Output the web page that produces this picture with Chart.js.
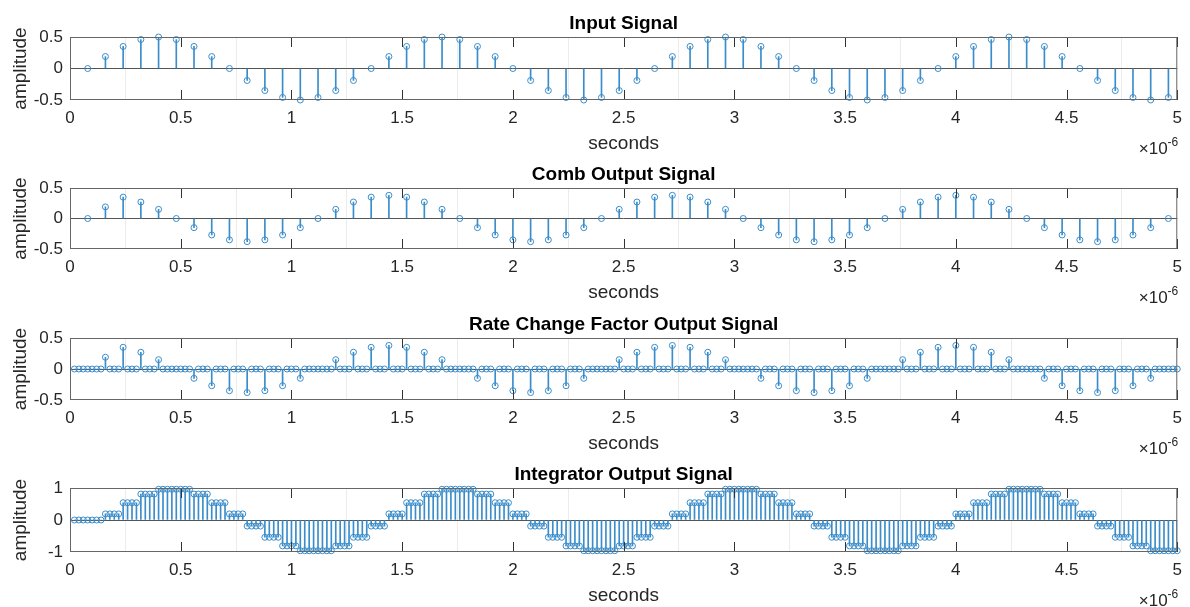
<!DOCTYPE html>
<html>
<head>
<meta charset="utf-8">
<title>CIC interpolator stages</title>
<script src="https://cdn.jsdelivr.net/npm/chart.js@4.4.1/dist/chart.umd.min.js"></script>
<style>
  html, body { margin: 0; padding: 0; background: #fff; }
  .panel { position: absolute; left: 0; width: 1190px; }
  canvas { display: block; }
</style>
</head>
<body>
<div class="panel" style="top:0px"><canvas id="c1" width="1190" height="155"></canvas></div>
<div class="panel" style="top:151px"><canvas id="c2" width="1190" height="153"></canvas></div>
<div class="panel" style="top:301px"><canvas id="c3" width="1190" height="154"></canvas></div>
<div class="panel" style="top:451px"><canvas id="c4" width="1190" height="156"></canvas></div>
<script>
// sample instants, in units of 1e-6 s
const sampleTime = [
  0.08, 0.16, 0.24, 0.32, 0.4, 0.48, 0.56, 0.64, 0.72, 0.8, 0.88, 0.96, 1.04, 1.12, 1.2, 1.28,
  1.36, 1.44, 1.52, 1.6, 1.68, 1.76, 1.84, 1.92, 2, 2.08, 2.16, 2.24, 2.32, 2.4, 2.48, 2.56,
  2.64, 2.72, 2.8, 2.88, 2.96, 3.04, 3.12, 3.2, 3.28, 3.36, 3.44, 3.52, 3.6, 3.68, 3.76, 3.84,
  3.92, 4, 4.08, 4.16, 4.24, 4.32, 4.4, 4.48, 4.56, 4.64, 4.72, 4.8, 4.88, 4.96
];

// instants after the rate change (4x faster)
const fastTime = [
  0.02, 0.04, 0.06, 0.08, 0.1, 0.12, 0.14, 0.16, 0.18, 0.2, 0.22, 0.24, 0.26, 0.28, 0.3, 0.32, 0.34, 0.36, 0.38, 0.4, 0.42, 0.44, 0.46, 0.48, 0.5,
  0.52, 0.54, 0.56, 0.58, 0.6, 0.62, 0.64, 0.66, 0.68, 0.7, 0.72, 0.74, 0.76, 0.78, 0.8, 0.82, 0.84, 0.86, 0.88, 0.9, 0.92, 0.94, 0.96, 0.98, 1,
  1.02, 1.04, 1.06, 1.08, 1.1, 1.12, 1.14, 1.16, 1.18, 1.2, 1.22, 1.24, 1.26, 1.28, 1.3, 1.32, 1.34, 1.36, 1.38, 1.4, 1.42, 1.44, 1.46, 1.48, 1.5,
  1.52, 1.54, 1.56, 1.58, 1.6, 1.62, 1.64, 1.66, 1.68, 1.7, 1.72, 1.74, 1.76, 1.78, 1.8, 1.82, 1.84, 1.86, 1.88, 1.9, 1.92, 1.94, 1.96, 1.98, 2,
  2.02, 2.04, 2.06, 2.08, 2.1, 2.12, 2.14, 2.16, 2.18, 2.2, 2.22, 2.24, 2.26, 2.28, 2.3, 2.32, 2.34, 2.36, 2.38, 2.4, 2.42, 2.44, 2.46, 2.48, 2.5,
  2.52, 2.54, 2.56, 2.58, 2.6, 2.62, 2.64, 2.66, 2.68, 2.7, 2.72, 2.74, 2.76, 2.78, 2.8, 2.82, 2.84, 2.86, 2.88, 2.9, 2.92, 2.94, 2.96, 2.98, 3,
  3.02, 3.04, 3.06, 3.08, 3.1, 3.12, 3.14, 3.16, 3.18, 3.2, 3.22, 3.24, 3.26, 3.28, 3.3, 3.32, 3.34, 3.36, 3.38, 3.4, 3.42, 3.44, 3.46, 3.48, 3.5,
  3.52, 3.54, 3.56, 3.58, 3.6, 3.62, 3.64, 3.66, 3.68, 3.7, 3.72, 3.74, 3.76, 3.78, 3.8, 3.82, 3.84, 3.86, 3.88, 3.9, 3.92, 3.94, 3.96, 3.98, 4,
  4.02, 4.04, 4.06, 4.08, 4.1, 4.12, 4.14, 4.16, 4.18, 4.2, 4.22, 4.24, 4.26, 4.28, 4.3, 4.32, 4.34, 4.36, 4.38, 4.4, 4.42, 4.44, 4.46, 4.48, 4.5,
  4.52, 4.54, 4.56, 4.58, 4.6, 4.62, 4.64, 4.66, 4.68, 4.7, 4.72, 4.74, 4.76, 4.78, 4.8, 4.82, 4.84, 4.86, 4.88, 4.9, 4.92, 4.94, 4.96, 4.98, 5
];

const inputSignal = [
  0, 0.19, 0.35, 0.46, 0.5, 0.46, 0.35, 0.19, 0, -0.19, -0.35, -0.46, -0.5, -0.46, -0.35, -0.19,
  0, 0.19, 0.35, 0.46, 0.5, 0.46, 0.35, 0.19, 0, -0.19, -0.35, -0.46, -0.5, -0.46, -0.35, -0.19,
  0, 0.19, 0.35, 0.46, 0.5, 0.46, 0.35, 0.19, 0, -0.19, -0.35, -0.46, -0.5, -0.46, -0.35, -0.19,
  0, 0.19, 0.35, 0.46, 0.5, 0.46, 0.35, 0.19, 0, -0.19, -0.35, -0.46, -0.5, -0.46
];

const combOutput = [
  0, 0.19,
  0.35, 0.27, 0.15, 0, -0.15, -0.27, -0.35, -0.38, -0.35, -0.27, -0.15, 0, 0.15, 0.27, 0.35, 0.38,
  0.35, 0.27, 0.15, 0, -0.15, -0.27, -0.35, -0.38, -0.35, -0.27, -0.15, 0, 0.15, 0.27, 0.35, 0.38,
  0.35, 0.27, 0.15, 0, -0.15, -0.27, -0.35, -0.38, -0.35, -0.27, -0.15, 0, 0.15, 0.27, 0.35, 0.38,
  0.35, 0.27, 0.15, 0, -0.15, -0.27, -0.35, -0.38, -0.35, -0.27, -0.15, 0
];

// zero-stuffed comb output
const rateChangeOutput = [
  0, 0, 0, 0,  0, 0, 0, 0.19,  0, 0, 0, 0.35,  0, 0, 0, 0.27,
  0, 0, 0, 0.15,  0, 0, 0, 0,  0, 0, 0, -0.15,  0, 0, 0, -0.27,
  0, 0, 0, -0.35,  0, 0, 0, -0.38,  0, 0, 0, -0.35,  0, 0, 0, -0.27,
  0, 0, 0, -0.15,  0, 0, 0, 0,  0, 0, 0, 0.15,  0, 0, 0, 0.27,
  0, 0, 0, 0.35,  0, 0, 0, 0.38,  0, 0, 0, 0.35,  0, 0, 0, 0.27,
  0, 0, 0, 0.15,  0, 0, 0, 0,  0, 0, 0, -0.15,  0, 0, 0, -0.27,
  0, 0, 0, -0.35,  0, 0, 0, -0.38,  0, 0, 0, -0.35,  0, 0, 0, -0.27,
  0, 0, 0, -0.15,  0, 0, 0, 0,  0, 0, 0, 0.15,  0, 0, 0, 0.27,
  0, 0, 0, 0.35,  0, 0, 0, 0.38,  0, 0, 0, 0.35,  0, 0, 0, 0.27,
  0, 0, 0, 0.15,  0, 0, 0, 0,  0, 0, 0, -0.15,  0, 0, 0, -0.27,
  0, 0, 0, -0.35,  0, 0, 0, -0.38,  0, 0, 0, -0.35,  0, 0, 0, -0.27,
  0, 0, 0, -0.15,  0, 0, 0, 0,  0, 0, 0, 0.15,  0, 0, 0, 0.27,
  0, 0, 0, 0.35,  0, 0, 0, 0.38,  0, 0, 0, 0.35,  0, 0, 0, 0.27,
  0, 0, 0, 0.15,  0, 0, 0, 0,  0, 0, 0, -0.15,  0, 0, 0, -0.27,
  0, 0, 0, -0.35,  0, 0, 0, -0.38,  0, 0, 0, -0.35,  0, 0, 0, -0.27,
  0, 0, 0, -0.15,  0, 0, 0, 0,
  0, 0
];

const integratorOutput = [
  0, 0, 0,
  0, 0, 0, 0,  0.19, 0.19, 0.19, 0.19,  0.54, 0.54, 0.54, 0.54,  0.81, 0.81, 0.81, 0.81,
  0.96, 0.96, 0.96, 0.96,  0.96, 0.96, 0.96, 0.96,  0.81, 0.81, 0.81, 0.81,  0.54, 0.54, 0.54, 0.54,
  0.19, 0.19, 0.19, 0.19,  -0.19, -0.19, -0.19, -0.19,  -0.54, -0.54, -0.54, -0.54,  -0.81, -0.81, -0.81, -0.81,
  -0.96, -0.96, -0.96, -0.96,  -0.96, -0.96, -0.96, -0.96,  -0.81, -0.81, -0.81, -0.81,  -0.54, -0.54, -0.54, -0.54,
  -0.19, -0.19, -0.19, -0.19,  0.19, 0.19, 0.19, 0.19,  0.54, 0.54, 0.54, 0.54,  0.81, 0.81, 0.81, 0.81,
  0.96, 0.96, 0.96, 0.96,  0.96, 0.96, 0.96, 0.96,  0.81, 0.81, 0.81, 0.81,  0.54, 0.54, 0.54, 0.54,
  0.19, 0.19, 0.19, 0.19,  -0.19, -0.19, -0.19, -0.19,  -0.54, -0.54, -0.54, -0.54,  -0.81, -0.81, -0.81, -0.81,
  -0.96, -0.96, -0.96, -0.96,  -0.96, -0.96, -0.96, -0.96,  -0.81, -0.81, -0.81, -0.81,  -0.54, -0.54, -0.54, -0.54,
  -0.19, -0.19, -0.19, -0.19,  0.19, 0.19, 0.19, 0.19,  0.54, 0.54, 0.54, 0.54,  0.81, 0.81, 0.81, 0.81,
  0.96, 0.96, 0.96, 0.96,  0.96, 0.96, 0.96, 0.96,  0.81, 0.81, 0.81, 0.81,  0.54, 0.54, 0.54, 0.54,
  0.19, 0.19, 0.19, 0.19,  -0.19, -0.19, -0.19, -0.19,  -0.54, -0.54, -0.54, -0.54,  -0.81, -0.81, -0.81, -0.81,
  -0.96, -0.96, -0.96, -0.96,  -0.96, -0.96, -0.96, -0.96,  -0.81, -0.81, -0.81, -0.81,  -0.54, -0.54, -0.54, -0.54,
  -0.19, -0.19, -0.19, -0.19,  0.19, 0.19, 0.19, 0.19,  0.54, 0.54, 0.54, 0.54,  0.81, 0.81, 0.81, 0.81,
  0.96, 0.96, 0.96, 0.96,  0.96, 0.96, 0.96, 0.96,  0.81, 0.81, 0.81, 0.81,  0.54, 0.54, 0.54, 0.54,
  0.19, 0.19, 0.19, 0.19,  -0.19, -0.19, -0.19, -0.19,  -0.54, -0.54, -0.54, -0.54,  -0.81, -0.81, -0.81, -0.81,
  -0.96, -0.96, -0.96, -0.96,
  -0.96, -0.96, -0.96
];

const STEM = '#3a8dca';
const FONT = '"Liberation Sans", Arial, Helvetica, sans-serif';
Chart.defaults.font.family = FONT;
Chart.defaults.color = '#262626';

const fmt = v => String(Math.round(v * 100) / 100);

// box, inward tick marks, title and the x10^-6 exponent
const panelFrame = {
  id: 'panelFrame',
  afterDatasetsDraw(chart, args, opts) {
    const { ctx, chartArea: a, scales: { x } } = chart;
    ctx.save();
    ctx.lineWidth = 1;
    ctx.strokeStyle = '#333';
    ctx.beginPath();
    x.ticks.forEach(t => {
      const px = Math.round(x.getPixelForValue(t.value)) + 0.5;
      ctx.moveTo(px, a.top); ctx.lineTo(px, a.top + 10);
      ctx.moveTo(px, a.bottom); ctx.lineTo(px, a.bottom - 10);
    });
    ctx.stroke();
    ctx.strokeStyle = '#666';
    ctx.strokeRect(a.left + 0.5, a.top + 0.5, a.width - 1, a.height - 1);

    ctx.fillStyle = '#000';
    ctx.font = 'bold 19px ' + FONT;
    ctx.textAlign = 'center';
    ctx.textBaseline = 'alphabetic';
    ctx.fillText(opts.title, (a.left + a.right) / 2, a.top - 8);

    ctx.fillStyle = '#262626';
    ctx.textAlign = 'right';
    ctx.font = '12px ' + FONT;
    const supW = ctx.measureText('-6').width;
    ctx.fillText('-6', a.right + 1, a.bottom + 46);
    ctx.font = '17px ' + FONT;
    ctx.fillText('\u00d710', a.right + 1 - supW, a.bottom + 54);
    ctx.restore();
  }
};

function stemPlot(canvasId, title, times, values, lim) {
  const pts = times.map((t, i) => ({ x: t, y: values[i] }));
  return new Chart(document.getElementById(canvasId), {
    type: 'bar',
    data: {
      datasets: [
        {
          type: 'line', data: pts, showLine: false, order: 0, clip: false,
          pointRadius: 3, pointBorderWidth: 1,
          pointBorderColor: STEM, pointBackgroundColor: 'rgba(0,0,0,0)'
        },
        { data: pts, order: 1, backgroundColor: STEM, borderWidth: 0, barThickness: 1 }
      ]
    },
    plugins: [panelFrame],
    options: {
      responsive: false,
      animation: false,
      events: [],
      layout: { padding: { top: 37, right: 6, left: 0, bottom: 0 } },
      plugins: {
        legend: { display: false },
        tooltip: { enabled: false },
        panelFrame: { title: title }
      },
      scales: {
        x: {
          type: 'linear', min: 0, max: 5, offset: false,
          afterFit: s => { s.height = 55; },
          border: { display: false },
          grid: { drawTicks: false, color: '#ececec' },
          ticks: { stepSize: 0.5, padding: 8, autoSkip: false, maxRotation: 0, font: { size: 17 }, callback: fmt },
          title: { display: true, text: 'seconds', font: { size: 19 }, padding: { top: 0, bottom: 0 } }
        },
        y: {
          min: -lim, max: lim,
          afterFit: s => { s.width = 70; },
          border: { display: false },
          grid: { drawTicks: false, color: c => (c.tick && c.tick.value === 0) ? '#555' : 'rgba(0,0,0,0)' },
          ticks: { stepSize: lim, padding: 7, font: { size: 17 }, callback: fmt },
          title: { display: true, text: 'amplitude', font: { size: 19 }, padding: { top: 9, bottom: 0 } }
        }
      }
    }
  });
}

stemPlot('c1', 'Input Signal', sampleTime, inputSignal, 0.5);
stemPlot('c2', 'Comb Output Signal', sampleTime, combOutput, 0.5);
stemPlot('c3', 'Rate Change Factor Output Signal', fastTime, rateChangeOutput, 0.5);
stemPlot('c4', 'Integrator Output Signal', fastTime, integratorOutput, 1);
</script>
</body>
</html>
